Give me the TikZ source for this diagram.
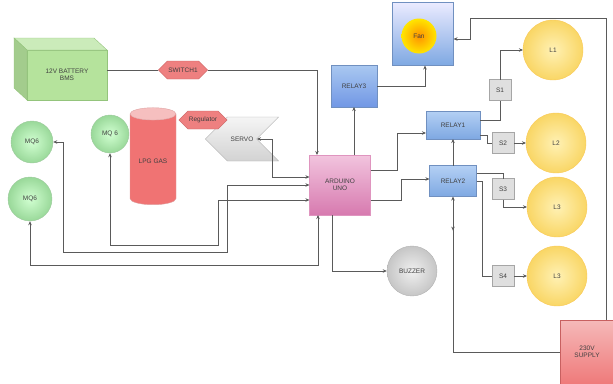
\documentclass[tikz,border=0pt]{standalone}
\usepackage{fontspec}
\setmainfont{Liberation Sans}
\usetikzlibrary{arrows.meta, shapes.geometric, shapes.symbols, decorations.markings}
\definecolor{wire}{HTML}{5A5A5A}
\definecolor{batgreen}{HTML}{B5E39C}
\definecolor{batedge}{HTML}{94C47C}
\definecolor{salmon}{HTML}{EE8080}
\definecolor{salmonedge}{HTML}{C86060}
\definecolor{relaytop}{HTML}{B4D0F4}
\definecolor{relaybot}{HTML}{7EA8E2}
\definecolor{relayedge}{HTML}{7090C0}
\definecolor{pinktop}{HTML}{F2C4DE}
\definecolor{pinkbot}{HTML}{D77AAF}
\definecolor{lampin}{HTML}{FFF1B4}
\definecolor{lampout}{HTML}{F9D665}
\tikzset{
  tip/.tip={Stealth[length=4pt,width=3.5pt]},
  link/.style={draw=wire, line width=0.7pt},
  ar/.style={link, -tip},
  biar/.style={link, tip-tip},
  batbox/.style={draw=batedge, fill=batgreen, minimum width=80pt, minimum height=50pt, outer sep=0pt},
  hexnode/.style={signal, signal to=east and west, draw=salmonedge, fill=salmon, inner sep=1pt},
  sensor/.style={circle, draw=green!30!gray!60, shading=radial, inner color=green!18, outer color=green!45!gray!55},
  relaybox/.style={draw=relayedge, top color=relaytop, bottom color=relaybot, outer sep=0pt},
  sbox/.style={draw=gray!70, fill=gray!25, minimum width=22pt, minimum height=21pt, outer sep=0pt},
  lamp/.style={circle, draw=lampout!85!orange, shading=radial, inner color=lampin, outer color=lampout, minimum size=60pt, outer sep=0pt}
}
\begin{document}
\begin{tikzpicture}[x=1pt, y=-1pt,
  every node/.style={font=\fontsize{6.5}{7.5}\selectfont, text=black!75, align=center}]
\useasboundingbox (0,0) rectangle (613,383);
% power and gas side
\node[batbox] (bat) at (67,75) {12V BATTERY\\BMS};
\fill[batgreen!70!white, draw=batedge] (bat.north west) -- ++(-13,-12) -- ++(80,0) -- (bat.north east) -- cycle;
\fill[batgreen!90!black, draw=batedge] (bat.north west) -- ++(-13,-12) -- ++(0,50) -- (bat.south west) -- cycle;
\node[hexnode, minimum width=48pt, minimum height=18pt] (sw) at (183,70) {SWITCH1};
\node[signal, signal to=west, signal from=east, draw=gray!65, top color=gray!8, bottom color=gray!35,
  minimum width=70pt, minimum height=44pt] (servo) at (242,139) {SERVO};
\node[cylinder, shape border rotate=90, aspect=0.35, draw=salmonedge!60, cylinder uses custom fill,
  cylinder body fill=salmon!90!red, cylinder end fill=salmon!50, minimum width=46pt, minimum height=97pt] (lpg) at (153,161) {LPG GAS};
\node[hexnode, minimum width=47pt, minimum height=18pt] (reg) at (203,120) {Regulator};
\node[sensor, minimum size=42pt] (mqa) at (32,142) {MQ6};
\node[sensor, minimum size=44pt] (mqb) at (30,199) {MQ6};
\node[sensor, minimum size=38pt] (mqc) at (110,134) {MQ 6};
% controller and relays
\node[draw=pinkbot!80, top color=pinktop, bottom color=pinkbot, minimum width=61pt, minimum height=60pt, outer sep=0pt] (ard) at (340,185) {ARDUINO\\UNO};
\node[relaybox, minimum width=46pt, minimum height=42pt, top color=relaytop!80!relaybot, bottom color=relaybot!90!blue] (relay3) at (354,86) {RELAY3};
\node[relaybox, minimum width=61pt, minimum height=63pt, top color=blue!8, bottom color=relaybot] (fanbox) at (423,34) {};
\node[circle, minimum size=35pt, shading=radial, inner color=orange!85!yellow, outer color=yellow!80!orange] (fan) at (419,36) {Fan};
\node[relaybox, minimum width=54pt, minimum height=28pt] (relay1) at (453,125) {RELAY1};
\node[relaybox, minimum width=47pt, minimum height=31pt] (relay2) at (453,181) {RELAY2};
\node[sbox] (s1) at (500,90) {S1};
\node[sbox] (s2) at (503,143) {S2};
\node[sbox] (s3) at (503,189) {S3};
\node[sbox] (s4) at (503,276) {S4};
\node[lamp] (l1) at (553,50) {L1};
\node[lamp] (l2) at (556,143) {L2};
\node[lamp] (l3) at (557,207) {L3};
\node[lamp] (l4) at (557,276) {L3};
\node[circle, draw=gray!60, shading=radial, inner color=gray!12, outer color=gray!45, minimum size=50pt] (buzzer) at (412,271) {BUZZER};
\node[draw=salmonedge, top color=salmon!55, bottom color=salmon!95!red, minimum width=54pt, minimum height=64pt, outer sep=0pt] (supply) at (587,352) {230V\\SUPPLY};
%
\draw[link] (sw.west -| bat.east) -- (sw.west);
\draw[ar] (sw.east) -| ([xshift=-23pt]ard.north);
\draw[biar] (servo.east) -- ++(15,0) |- ([yshift=8pt]ard.west);
\draw[biar] (mqa.east) -- (63,142) -- (63,252) -- (227,252) |- (ard.west);
\draw[biar] (mqc.south) -- (110,245) -- (218,245) |- ([yshift=-15pt]ard.west);
\draw[biar] (mqb.south) -- (30,265) -| ([xshift=-22pt]ard.south);
\draw[ar] (ard.north -| relay3) -- (relay3.south);
\draw[ar] (relay3.east) -| ([xshift=2pt]fanbox.south);
\draw[ar] ([xshift=19pt]supply.north) |- (470,18) |- ([yshift=-5pt]fanbox.east);
\draw[ar, postaction={decorate}, decoration={markings,
  mark=at position 0.87 with {\arrowreversed{Stealth[length=4pt,width=3.5pt]}}}] (supply.west) -| (relay2.south);
\draw[ar] ([yshift=15pt]ard.east) -- (397,170) |- ([yshift=-8pt]relay1.west);
\draw[ar] ([yshift=-15pt]ard.east) -- (401,200) |- ([yshift=2pt]relay2.west);
\draw[ar] (relay2.north) -- (relay1.south);
\draw[ar] ([xshift=-8pt]ard.south) |- (buzzer.west);
%
\draw[link] ([yshift=4.5pt]relay1.east) -| (s1.south);
\draw[ar] (s1.north) |- (l1.west);
\draw[link] ([yshift=-10pt]relay1.east) -- ++(7,0) |- (s2.west);
\draw[ar] (s2.east) -- (l2.west);
\draw[link] ([yshift=8pt]relay2.east) -| (s3.north);
\draw[ar] (s3.south) |- (l3.west);
\draw[link] (relay2.east) -- ++(6,0) |- (s4.west);
\draw[ar] (s4.east) -- (l4.west);
\end{tikzpicture}
\end{document}
